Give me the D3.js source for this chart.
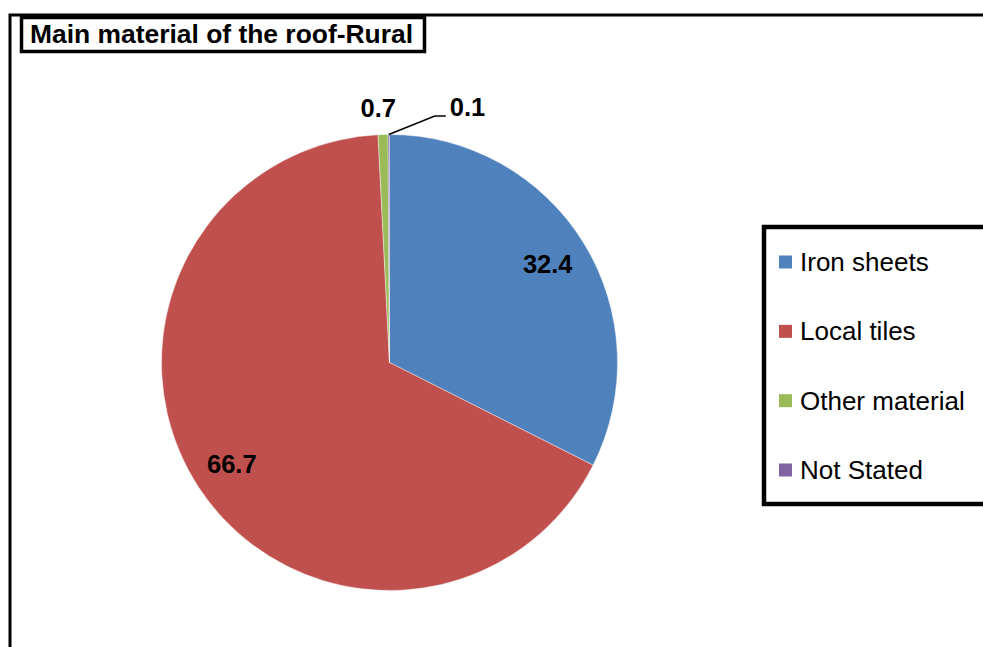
<!DOCTYPE html>
<meta charset="utf-8">
<style>
body { margin: 0; background: #fff; }
svg { display: block; }
text { font-family: "Liberation Sans", Arial, sans-serif; }
.frame { fill: none; stroke: #000; stroke-width: 3px; }
.label { font-weight: bold; font-size: 25.5px; fill: #000; }
.legend text { font-size: 26px; fill: #000; }
</style>
<svg width="983" height="647"></svg>
<script src="https://d3js.org/d3.v7.min.js"></script>
<script>

var categories = ["Iron sheets", "Local tiles", "Other material", "Not Stated"];
var values = [32.4, 66.7, 0.7, 0.1];
var colors = ["#4F81BD", "#C0504D", "#9BBB59", "#8064A2"];
var title = "Main material of the roof-Rural";

var svg = d3.select("svg"),
    width = +svg.attr("width"),
    height = +svg.attr("height");

var data = categories.map(function(c, i) { return {name: c, value: values[i], color: colors[i]}; });

// outer chart frame (only top and left edges are visible)
svg.append("path")
    .attr("class", "frame")
    .attr("d", "M10," + height + "V15H" + (width + 5));

// title box
svg.append("rect")
    .attr("class", "frame")
    .attr("x", 21.5).attr("y", 17.5)
    .attr("width", 403).attr("height", 34)
    .style("stroke-width", "3.5px");

svg.append("text")
    .attr("x", 30).attr("y", 43)
    .attr("textLength", 383)
    .attr("lengthAdjust", "spacingAndGlyphs")
    .style("font-weight", "bold")
    .style("font-size", "25.5px")
    .text(title);

var cx = 389.5, cy = 362.5, radius = 228;

var pie = d3.pie()
    .sort(null)
    .value(function(d) { return d.value; });

var arc = d3.arc().innerRadius(0).outerRadius(radius);
var labelArc = d3.arc().innerRadius(radius * 0.82).outerRadius(radius * 0.82);
var outerArc = d3.arc().innerRadius(radius + 27).outerRadius(radius + 27);

var g = svg.append("g").attr("transform", "translate(" + cx + "," + cy + ")");

var arcs = pie(data);

g.selectAll("path.slice")
    .data(arcs)
    .enter().append("path")
      .attr("class", "slice")
      .attr("d", arc)
      .attr("fill", function(d) { return d.data.color; })
      .attr("stroke", "#fff")
      .attr("stroke-width", 0.4);

// big slices get their label inside, small ones outside
arcs.forEach(function(d, i) {
  var share = d.data.value / d3.sum(values);
  if (share > 0.05) {
    var c = labelArc.centroid(d);
    g.append("text")
        .attr("class", "label")
        .attr("x", c[0] - 1).attr("y", c[1])
        .attr("text-anchor", "middle")
        .attr("dy", "0.35em")
        .text(d.data.value);
  } else if (i === 2) {
    var o = outerArc.centroid(d);
    g.append("text")
        .attr("class", "label")
        .attr("x", o[0] - 4).attr("y", o[1] + 9)
        .attr("text-anchor", "middle")
        .text(d.data.value);
  } else {
    var a = (d.startAngle + d.endAngle) / 2;
    var p0 = [Math.sin(a) * radius, -Math.cos(a) * radius];
    var p1 = [p0[0] + 46, p0[1] - 18.5];
    var p2 = [p1[0] + 11, p1[1]];
    g.append("polyline")
        .attr("points", [p0, p1, p2].map(function(p) { return p.join(","); }).join(" "))
        .attr("fill", "none")
        .attr("stroke", "#000")
        .attr("stroke-width", 1.5);
    g.append("text")
        .attr("class", "label")
        .attr("x", p2[0] + 4).attr("y", p2[1])
        .text(d.data.value);
  }
});

// legend
var legend = svg.append("g").attr("class", "legend");

legend.append("rect")
    .attr("x", 764).attr("y", 227)
    .attr("width", 240).attr("height", 277)
    .attr("fill", "none")
    .attr("stroke", "#000")
    .attr("stroke-width", 4.5);

var legendY = d3.scalePoint()
    .domain(categories)
    .range([262, 470]);

var item = legend.selectAll("g.item")
    .data(data)
    .enter().append("g")
      .attr("class", "item")
      .attr("transform", function(d) { return "translate(779," + legendY(d.name) + ")"; });

item.append("rect")
    .attr("x", 0).attr("y", -6.5)
    .attr("width", 13).attr("height", 13)
    .attr("fill", function(d) { return d.color; });

item.append("text")
    .attr("x", 21).attr("y", 9)
    .text(function(d) { return d.name; });

</script>
